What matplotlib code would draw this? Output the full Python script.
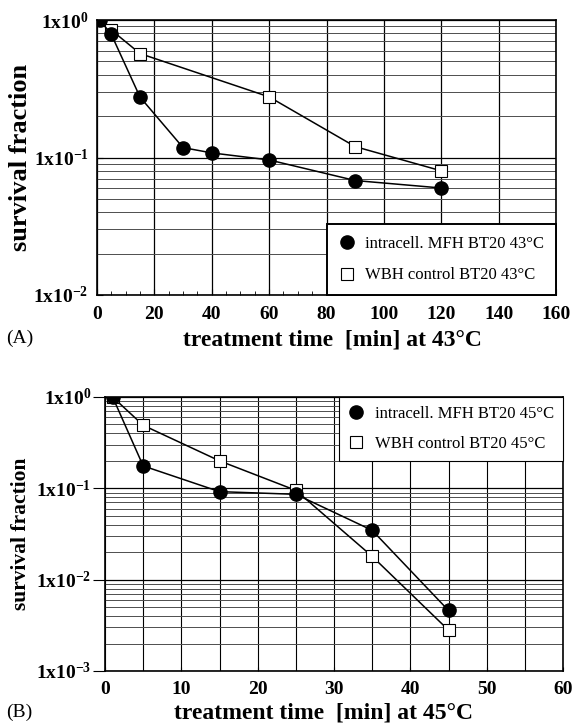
import numpy as np
import matplotlib
matplotlib.use('Agg')
import matplotlib.pyplot as plt
from matplotlib.lines import Line2D
from matplotlib.ticker import LogLocator, FixedLocator, MultipleLocator, NullFormatter

plt.rcParams['font.family'] = 'Liberation Serif'
plt.rcParams['mathtext.fontset'] = 'custom'
plt.rcParams['mathtext.rm'] = 'Liberation Serif:bold'
plt.rcParams['mathtext.it'] = 'Liberation Serif:bold'
plt.rcParams['mathtext.bf'] = 'Liberation Serif:bold'

# panel A, 43 C
time_a = [1, 5, 15, 30, 40, 60, 90, 120]
mfh_a = [1.0, 0.785, 0.275, 0.118, 0.108, 0.096, 0.068, 0.060]
time_a_wbh = [1, 5, 15, 60, 90, 120]
wbh_a = [1.0, 0.845, 0.57, 0.276, 0.12, 0.080]

# panel B, 45 C
time_b = [1, 5, 15, 25, 35, 45]
mfh_b = [1.0, 0.176, 0.092, 0.086, 0.0347, 0.0046]
wbh_b = [1.0, 0.49, 0.20, 0.095, 0.018, 0.0028]

labels_a = ['intracell. MFH BT20 43°C', 'WBH control BT20 43°C']
labels_b = ['intracell. MFH BT20 45°C', 'WBH control BT20 45°C']

fig = plt.figure(figsize=(5.72, 7.27), dpi=100)
W, H = 572, 727


def box(l, t, r, b):
    return [l / W, 1 - b / H, (r - l) / W, (b - t) / H]


def px(x, y):
    return x / W, 1 - y / H


def style_axis(ax, ymin):
    ax.set_yscale('log')
    ax.set_ylim(ymin, 1)
    decades = np.arange(int(np.log10(ymin)), 1)
    ax.yaxis.set_major_locator(FixedLocator(10.0 ** decades))
    ax.set_yticklabels(['1x10$^{%d}$' % d for d in decades])
    ax.yaxis.set_minor_locator(LogLocator(base=10, subs=np.arange(2, 10)))
    ax.yaxis.set_minor_formatter(NullFormatter())
    ax.grid(True, which='major', axis='y', color='black', lw=0.9)
    ax.grid(True, which='minor', axis='y', color='0.3', lw=0.7)
    for lab in ax.get_xticklabels() + ax.get_yticklabels():
        lab.set_fontweight('bold')
        lab.set_fontsize(14)
    for s in ax.spines.values():
        s.set_linewidth(1.2)


def draw(ax, tm, ym, tw, yw):
    ax.plot(tm, ym, color='black', lw=1.1, marker='o', ms=9.5,
            mfc='black', mec='black', zorder=4)
    ax.plot(tw, yw, color='black', lw=1.1, marker='s', ms=8,
            mfc='white', mec='black', mew=0.8, zorder=3)


def legend_handles():
    return [Line2D([], [], ls='none', marker='o', ms=9.5, mfc='black', mec='black'),
            Line2D([], [], ls='none', marker='s', ms=8, mfc='white', mec='black', mew=0.8)]


# ---- panel A
ax1 = fig.add_axes(box(97, 20, 556, 295))
draw(ax1, time_a, mfh_a, time_a_wbh, wbh_a)
ax1.set_xlim(0, 160)
ax1.xaxis.set_major_locator(MultipleLocator(20))
ax1.xaxis.set_minor_locator(MultipleLocator(5))
ax1.grid(True, which='major', axis='x', color='black', lw=0.9)
style_axis(ax1, 0.01)
ax1.tick_params(which='both', direction='in', top=False, right=False, pad=8)
ax1.tick_params(which='major', length=4)
ax1.tick_params(which='minor', length=3)
ax1.tick_params(axis='y', which='minor', length=0)
ax1.tick_params(axis='y', pad=6)
leg1 = ax1.legend(legend_handles(), labels_a, loc='lower right', fontsize=12,
                  frameon=True, fancybox=False, edgecolor='black', framealpha=1,
                  borderaxespad=0, handletextpad=0.6, labelspacing=0.95,
                  borderpad=0.7, handlelength=1.0)
leg1.get_frame().set_linewidth(1.4)
fig.text(*px(21, 157), 'survival fraction', fontsize=19, fontweight='bold',
         rotation=90, ha='center', va='center')
fig.text(*px(332, 340), 'treatment time  [min] at 43°C', fontsize=17,
         fontweight='bold', ha='center', va='center')
fig.text(*px(6, 338), '(A)', fontsize=14, va='center', ha='left')

# ---- panel B
ax2 = fig.add_axes(box(105, 397, 563, 671))
draw(ax2, time_b, mfh_b, time_b, wbh_b)
ax2.set_xlim(0, 60)
ax2.xaxis.set_major_locator(MultipleLocator(10))
ax2.xaxis.set_minor_locator(MultipleLocator(5))
ax2.grid(True, which='both', axis='x', color='black', lw=0.8)
style_axis(ax2, 0.001)
ax2.tick_params(axis='y', which='major', direction='out', length=9, pad=1, right=False)
ax2.tick_params(axis='x', which='major', direction='in', length=3, pad=7, top=False)
ax2.tick_params(which='minor', length=0)
leg2 = ax2.legend(legend_handles(), labels_b, loc='upper right', fontsize=12,
                  frameon=True, fancybox=False, edgecolor='black', framealpha=1,
                  borderaxespad=0, handletextpad=0.6, labelspacing=0.8,
                  borderpad=0.55, handlelength=1.0)
leg2.get_frame().set_linewidth(0.8)
fig.text(*px(21, 534), 'survival fraction', fontsize=15.5, fontweight='bold',
         rotation=90, ha='center', va='center')
fig.text(*px(324, 713), 'treatment time  [min] at 45°C', fontsize=17,
         fontweight='bold', ha='center', va='center')
fig.text(*px(6, 712), '(B)', fontsize=14, va='center', ha='left')

fig.savefig('out.png', dpi=100)
